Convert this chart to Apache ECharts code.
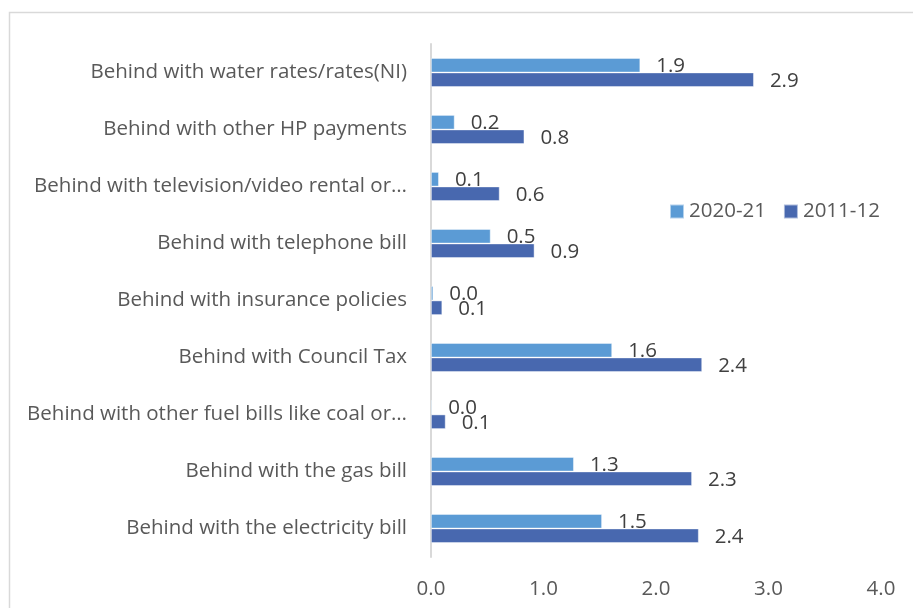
<!DOCTYPE html>
<html>
<head>
<meta charset="utf-8">
<script src="https://cdn.jsdelivr.net/npm/echarts@6/dist/echarts.min.js"></script>
<style>
  html, body { margin: 0; padding: 0; background: #ffffff; }
  #chart { width: 913px; height: 608px; }
</style>
</head>
<body>
<div id="chart"></div>
<script>
// Categories listed bottom to top (category axis runs upward)
const categories = [
  'Behind with the electricity bill',
  'Behind with the gas bill',
  'Behind with other fuel bills like coal or…',
  'Behind with Council Tax',
  'Behind with insurance policies',
  'Behind with telephone bill',
  'Behind with television/video rental or…',
  'Behind with other HP payments',
  'Behind with water rates/rates(NI)'
];
const seriesNames = ['2020-21', '2011-12'];
const values2020 = [1.52, 1.27, 0.01, 1.61, 0.02, 0.53, 0.07, 0.21, 1.86];
const values2011 = [2.38, 2.32, 0.13, 2.41, 0.10, 0.92, 0.61, 0.83, 2.87];
const xTicks = { min: 0, max: 4, interval: 1 };

const FONT = '"Open Sans"';
const FONT_SIZE = 20.5;
const colors = ['#5B9BD5', '#4868AF'];

function barSeries(name, data, color, labelOffsetY) {
  return {
    name: name,
    type: 'bar',
    data: data,
    barWidth: 14.5,
    barGap: '0%',
    itemStyle: { color: color, borderColor: 'rgba(255,255,255,0.55)', borderWidth: 0.8 },
    label: {
      show: true,
      position: 'right',
      distance: 16,
      offset: [0, labelOffsetY],
      color: '#404040',
      fontFamily: FONT,
      fontSize: FONT_SIZE,
      formatter: p => p.value.toFixed(1)
    },
    emphasis: { disabled: true }
  };
}

const chart = echarts.init(document.getElementById('chart'), null, { renderer: 'canvas' });
chart.setOption({
  animation: false,
  backgroundColor: '#ffffff',
  textStyle: { fontFamily: FONT },
  graphic: [{
    type: 'rect',
    shape: { x: 9.5, y: 12.5, width: 1000, height: 1000 },
    style: { fill: 'none', stroke: '#d9d9d9', lineWidth: 1.5 },
    silent: true
  }],
  legend: {
    data: seriesNames,
    left: 664,
    top: 196,
    itemWidth: 14,
    itemHeight: 14,
    itemGap: 17,
    icon: 'rect',
    textStyle: { color: '#595959', fontFamily: FONT, fontSize: FONT_SIZE }
  },
  grid: { left: 431, right: 32, top: 44, bottom: 51, containLabel: false },
  xAxis: {
    type: 'value',
    min: xTicks.min,
    max: xTicks.max,
    interval: xTicks.interval,
    axisLine: { show: false },
    axisTick: { show: false },
    splitLine: { show: false },
    axisLabel: {
      color: '#595959',
      fontFamily: FONT,
      fontSize: FONT_SIZE,
      margin: 22,
      formatter: v => v.toFixed(1)
    }
  },
  yAxis: {
    type: 'category',
    data: categories,
    axisLine: { show: true, lineStyle: { color: '#d9d9d9', width: 2 } },
    axisTick: { show: false },
    splitLine: { show: false },
    axisLabel: {
      color: '#595959',
      fontFamily: FONT,
      fontSize: FONT_SIZE,
      margin: 24
    }
  },
  series: [
    barSeries(seriesNames[0], values2020, colors[0], 1),
    barSeries(seriesNames[1], values2011, colors[1], 1)
  ]
});
</script>
</body>
</html>
